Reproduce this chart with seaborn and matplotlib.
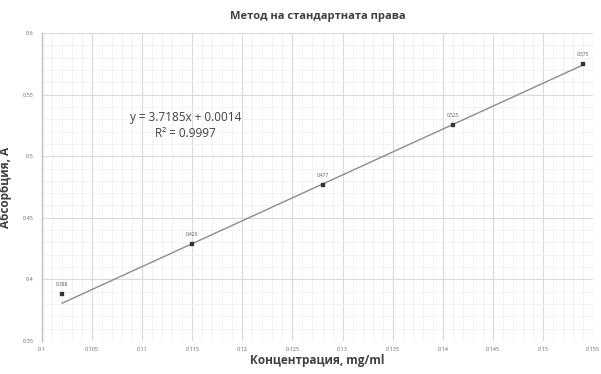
import numpy as np
import matplotlib
matplotlib.use("Agg")
import matplotlib.pyplot as plt
from matplotlib.ticker import MultipleLocator, FormatStrFormatter
import seaborn as sns

# concentration (mg/ml) and absorbance
concentration = [0.102, 0.115, 0.128, 0.141, 0.154]
absorbance = [0.388, 0.429, 0.477, 0.525, 0.575]
point_labels = ["0.388", "0.429", "0.477", "0.525", "0.575"]

# trendline as printed on the chart
slope = 3.7185
intercept = 0.0014
equation_text = "y = 3.7185x + 0.0014\nR² = 0.9997"

sns.set_theme(style="white")
plt.rcParams['font.family'] = ['Open Sans', 'DejaVu Sans']

fig = plt.figure(figsize=(6.01, 3.74), dpi=100)
ax = fig.add_axes([0.0699, 0.0882, 0.9168, 0.8236])

# trendline over the data range
trend_x = np.array([min(concentration), max(concentration)])
trend_y = slope * trend_x + intercept
sns.lineplot(x=trend_x, y=trend_y, ax=ax, color='#8c8c8c', linewidth=1.0, zorder=3)

sns.scatterplot(x=concentration, y=absorbance, ax=ax, color='#333333', s=7,
                marker='s', edgecolor='#333333', zorder=4)

for xv, yv, lab in zip(concentration, absorbance, point_labels):
    ax.annotate(lab, (xv, yv), xytext=(0, 5), textcoords='offset points',
                ha='center', va='bottom', fontsize=3.5, color='#555555')

ax.text(0.1143, 0.525, equation_text, ha='center', va='center', fontsize=8.5,
        color='#404040', linespacing=1.3)

ax.set_xlim(0.1, 0.155)
ax.set_ylim(0.35, 0.6)
ax.xaxis.set_major_locator(MultipleLocator(0.005))
ax.xaxis.set_minor_locator(MultipleLocator(0.001))
ax.yaxis.set_major_locator(MultipleLocator(0.05))
ax.yaxis.set_minor_locator(MultipleLocator(0.01))
ax.xaxis.set_major_formatter(FormatStrFormatter('%g'))
ax.yaxis.set_major_formatter(FormatStrFormatter('%g'))

ax.grid(which='major', color='#d9d9d9', linewidth=0.8)
ax.grid(which='minor', color='#f0f0f0', linewidth=0.6)
ax.set_axisbelow(True)

ax.tick_params(axis='both', which='both', length=0, labelsize=4, colors='#666666')
ax.tick_params(axis='x', pad=4)
ax.tick_params(axis='y', pad=6)

for side in ['top', 'right', 'bottom']:
    ax.spines[side].set_visible(False)
ax.spines['left'].set_color('#bfbfbf')
ax.spines['left'].set_linewidth(1.0)

ax.set_title('Метод на стандартната права', fontsize=8, fontweight='bold',
             color='#404040', pad=10)
ax.set_xlabel('Концентрация, mg/ml', fontsize=8.5, fontweight='bold', color='#404040', labelpad=2)
ax.set_ylabel('Абсорбция, А', fontsize=8.5, fontweight='bold', color='#404040', labelpad=8)

fig.savefig('out.png', dpi=100)
